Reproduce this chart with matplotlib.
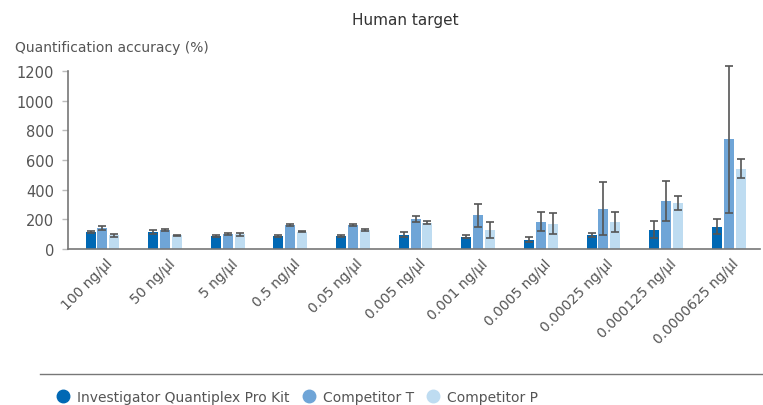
import matplotlib
matplotlib.use("Agg")
import matplotlib.pyplot as plt
from matplotlib.lines import Line2D
import matplotlib.transforms as mtransforms
import numpy as np

plt.rcParams['font.family'] = ['DejaVu Sans']

categories = ["100 ng/µl", "50 ng/µl", "5 ng/µl", "0.5 ng/µl", "0.05 ng/µl",
              "0.005 ng/µl", "0.001 ng/µl", "0.0005 ng/µl", "0.00025 ng/µl",
              "0.000125 ng/µl", "0.0000625 ng/µl"]
series_names = ["Investigator Quantiplex Pro Kit", "Competitor T", "Competitor P"]
iq_vals = [117, 117, 88, 88, 88, 96, 83, 63, 96, 130, 150]
iq_err = [6, 14, 4, 4, 4, 17, 12, 15, 15, 59, 49]
t_vals = [142, 128, 101, 162, 162, 205, 227, 184, 272, 326, 739]
t_err = [14, 5, 8, 5, 6, 20, 79, 63, 180, 134, 495]
p_vals = [92, 92, 101, 117, 128, 178, 130, 171, 184, 313, 542]
p_err = [8, 3, 10, 4, 10, 10, 54, 72, 68, 47, 63]
colors = ["#0068b4", "#6fa5d7", "#bedcf1"]
text_color = "#555555"

fig = plt.figure(figsize=(7.63, 4.06), dpi=100)
ax = fig.add_axes([68/763, 1-250/406, 692/763, 178/406])

x = np.arange(len(categories))
w = 0.16
off = 0.19
for i, (v, e) in enumerate([(iq_vals, iq_err), (t_vals, t_err), (p_vals, p_err)]):
    ax.bar(x + (i-1)*off, v, width=w, color=colors[i], zorder=2)
    eb = ax.errorbar(x + (i-1)*off, v, yerr=e, fmt='none', ecolor='#555555',
                     elinewidth=1.2, capsize=3, capthick=1.2, zorder=3)
    for art in list(eb.lines[1]) + list(eb.lines[2]):
        art.set_clip_on(False)

ax.set_xlim(-0.55, 10.5)
ax.set_ylim(0, 1200)
ax.set_yticks(range(0, 1201, 200))
ax.tick_params(axis='y', length=4, width=1, color='#bbbbbb', labelsize=10.5,
               labelcolor=text_color, pad=6)
ax.set_xticks(x)
ax.set_xticklabels(categories, rotation=45, ha='right', rotation_mode='anchor',
                   fontsize=10, color=text_color)
ax.tick_params(axis='x', length=0, pad=5)
shift = mtransforms.ScaledTranslation(3/100, 0, fig.dpi_scale_trans)
for lab in ax.get_xticklabels():
    lab.set_transform(lab.get_transform() + shift)
for s in ['top', 'right']:
    ax.spines[s].set_visible(False)
for s in ['left', 'bottom']:
    ax.spines[s].set_color('#777777')
    ax.spines[s].set_linewidth(1.2)

fig.text(405/763, 1-20/406, "Human target", ha='center', va='center',
         fontsize=11, color='#333333')
fig.text(15/763, 1-48/406, "Quantification accuracy (%)", ha='left', va='center',
         fontsize=10, color=text_color)

fig.add_artist(Line2D([40/763, 762/763], [1-375/406, 1-375/406],
                      color='#777777', lw=1, transform=fig.transFigure))

handles = [Line2D([], [], marker='o', linestyle='none', markersize=9,
                  markerfacecolor=c, markeredgecolor=c) for c in colors]
fig.legend(handles, series_names, loc='center left',
           bbox_to_anchor=(56/763, 1-398/406), ncol=3, frameon=False,
           fontsize=10, labelcolor=text_color, handletextpad=0.5,
           columnspacing=0.9, handlelength=1.0, borderaxespad=0, borderpad=0)

fig.savefig("out.png", dpi=100)
